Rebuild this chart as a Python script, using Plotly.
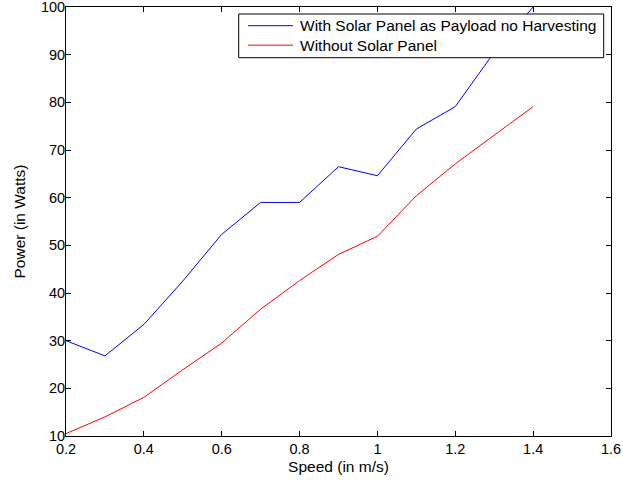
import plotly.graph_objects as go

speed = [0.2, 0.3, 0.4, 0.5, 0.6, 0.7, 0.8, 0.9, 1.0, 1.1, 1.2, 1.3, 1.4]
with_panel = [30.0, 26.8, 33.4, 42.5, 52.3, 59.0, 59.0, 66.5, 64.6, 74.4, 79.1, 90.5, 100.0]
without_panel = [10.5, 14.0, 18.1, 23.9, 29.5, 36.6, 42.6, 48.1, 51.9, 60.4, 67.1, 73.1, 79.1]

names = ["With Solar Panel as Payload no Harvesting", "Without Solar Panel"]
colors = ["#0000ff", "#ff0000"]

W, H = 623, 482
ML, MR, MT, MB = 66, 12, 7, 46
PW, PH = W - ML - MR, H - MT - MB


def px_x(x):
    return (x - ML) / PW


def px_y(y):
    return 1 - (y - MT) / PH


fig = go.Figure()
for yv, nm, c in [(with_panel, names[0], colors[0]), (without_panel, names[1], colors[1])]:
    fig.add_trace(go.Scatter(x=speed, y=yv, mode="lines", name=nm,
                             line=dict(color=c, width=1), showlegend=False))

font = "Liberation Sans, Arial, Helvetica, sans-serif"
FS = 15.5
TFS = 14.5
axis_common = dict(showline=True, linecolor="black", linewidth=1, mirror="ticks",
                   ticks="inside", ticklen=5, tickcolor="black", showgrid=False,
                   zeroline=False, ticklabeloverflow="allow", automargin=False,
                   tickfont=dict(size=TFS, color="black", family=font))

# manual MATLAB-style legend box
box = dict(x0=px_x(238.7), x1=px_x(603.7), y0=px_y(57.7), y1=px_y(14))
shapes = [dict(type="rect", xref="paper", yref="paper", line=dict(color="black", width=1),
               fillcolor="white", layer="above", **box)]
annotations = []
row_y = [25.7, 45.2]
for i, (nm, c) in enumerate(zip(names, colors)):
    yy = px_y(row_y[i])
    shapes.append(dict(type="line", xref="paper", yref="paper", x0=px_x(248), x1=px_x(293),
                       y0=yy, y1=yy, line=dict(color=c, width=1), layer="above"))
    annotations.append(dict(text=nm, xref="paper", yref="paper", x=px_x(297.5), y=yy,
                            xanchor="left", yanchor="middle", showarrow=False,
                            font=dict(size=FS, color="black", family=font)))

fig.update_layout(
    width=W, height=H,
    margin=dict(l=ML, r=MR, t=MT, b=MB),
    paper_bgcolor="white", plot_bgcolor="white",
    font=dict(family=font, size=FS, color="black"),
    xaxis=dict(range=[0.2, 1.6], dtick=0.2, tick0=0.2,
               title=dict(text="Speed (in m/s)", font=dict(size=FS), standoff=4),
               **axis_common),
    yaxis=dict(range=[10, 100], dtick=10, tick0=10, ticklabelstandoff=-3,
               title=dict(text="Power (in Watts)", font=dict(size=FS), standoff=11),
               **axis_common),
    shapes=shapes,
    annotations=annotations,
    showlegend=False,
)

fig.write_html("out.html")
